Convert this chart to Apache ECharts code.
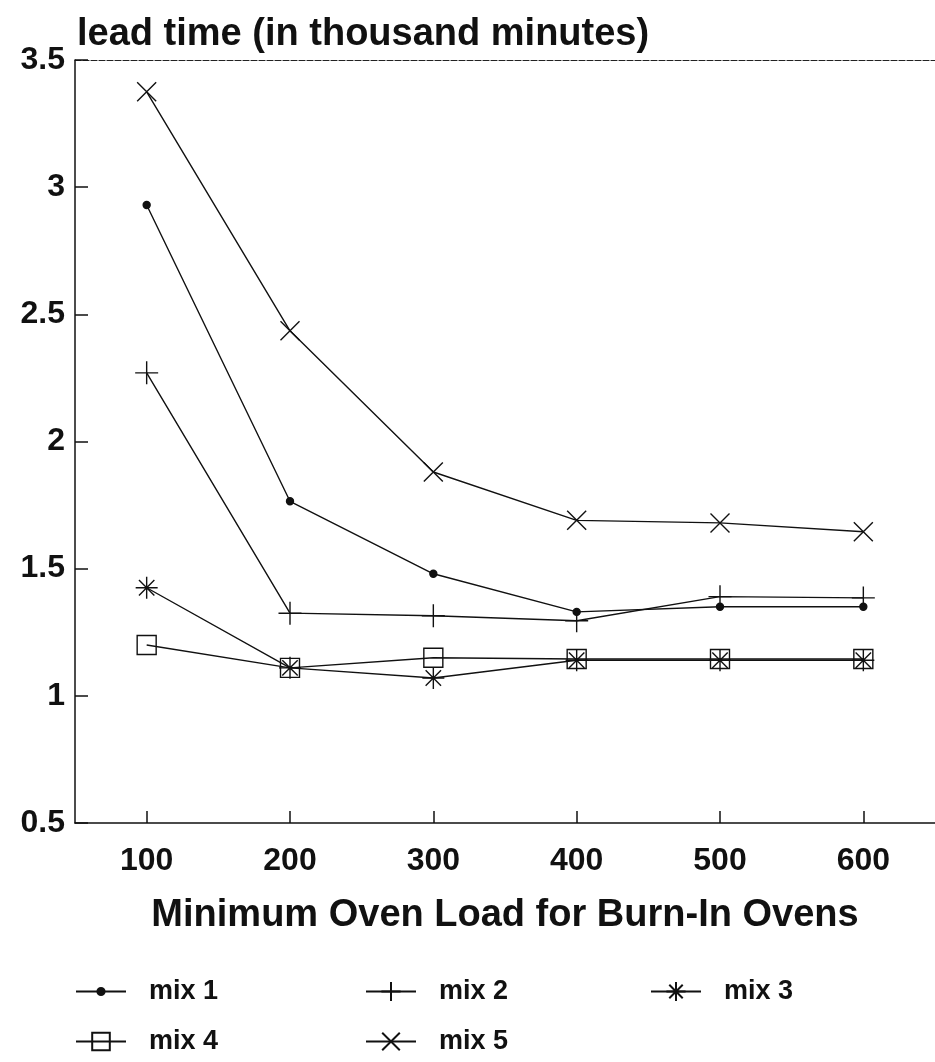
<!DOCTYPE html>
<html>
<head>
<meta charset="utf-8">
<script src="https://cdn.jsdelivr.net/npm/echarts@6/dist/echarts.min.js"></script>
<style>
  html, body { margin: 0; padding: 0; background: #fff; }
  #leadChart { width: 935px; height: 1062px; }
</style>
</head>
<body>
<div id="leadChart"></div>
<script>
// oven loads on the x axis
var loads = [100, 200, 300, 400, 500, 600];
// lead time, thousand minutes
var mix1 = [2.93, 1.765, 1.48, 1.33, 1.35, 1.35];
var mix2 = [2.27, 1.325, 1.315, 1.295, 1.39, 1.385];
var mix3 = [1.425, 1.11, 1.07, 1.14, 1.14, 1.14];
var mix4 = [1.20, 1.11, 1.15, 1.145, 1.145, 1.145];
var mix5 = [3.375, 2.435, 1.88, 1.69, 1.68, 1.645];
var yTicks = [0.5, 1, 1.5, 2, 2.5, 3, 3.5];

var FONT = '"Liberation Sans", Arial, sans-serif';

function pairs(vals) {
    return loads.map((x, i) => [x, vals[i]]);
}

// marker shapes, drawn as strokes
var PLUS = 'path://M0,5L10,5M5,0L5,10';
var CROSS = 'path://M0,0L10,10M10,0L0,10';
var STAR = 'path://M5,0L5,10M0,5L10,5M1.5,1.5L8.5,8.5M8.5,1.5L1.5,8.5';
var BOX = 'path://M0,0L10,0L10,10L0,10Z';

function mkSeries(name, vals, symbol, size, fill) {
    return {
        name: name,
        type: 'line',
        data: pairs(vals),
        symbol: symbol,
        symbolSize: size,
        showAllSymbol: true,
        lineStyle: { color: '#111', width: 1.4 },
        itemStyle: { color: fill, borderColor: '#111', borderWidth: 1.4 },
        emphasis: { disabled: true }
    };
}

var myChart = echarts.init(document.getElementById('leadChart'));

// one small legend per entry so they sit on the same grid as the scan
function leg(name, left, top, h) {
    return {
        data: [name],
        left: left,
        top: top,
        padding: 0,
        itemWidth: 50,
        itemHeight: h,
        textStyle: { fontFamily: FONT, fontSize: 27, fontWeight: 'bold', color: '#111', padding: [0, 0, 0, 18] }
    };
}

var option = {
    animation: false,
    backgroundColor: '#fff',
    title: {
        text: 'lead time (in thousand minutes)',
        left: 72,
        top: 11,
        textStyle: { fontFamily: FONT, fontSize: 38, fontWeight: 'bold', color: '#111' }
    },
    legend: [
        leg('mix 1', 75, 978, 9),
        leg('mix 2', 365, 978, 24),
        leg('mix 3', 650, 978, 24),
        leg('mix 4', 75, 1028, 22),
        leg('mix 5', 365, 1028, 22)
    ],
    grid: { left: 75, top: 60, right: -13, bottom: 239 },
    xAxis: [{
        type: 'value',
        min: 50,
        max: 650,
        name: 'Minimum Oven Load for Burn-In Ovens',
        nameLocation: 'middle',
        nameGap: 74,
        nameTextStyle: { fontFamily: FONT, fontSize: 38, fontWeight: 'bold', color: '#111' },
        axisLine: { lineStyle: { color: '#111', width: 1.5 } },
        axisTick: { inside: true, length: 12, customValues: loads, lineStyle: { color: '#111', width: 1.5 } },
        axisLabel: { customValues: loads, margin: 22, fontFamily: FONT, fontSize: 32, fontWeight: 'bold', color: '#111' },
        splitLine: { show: false }
    }, {
        type: 'value',
        position: 'top',
        min: 50,
        max: 650,
        axisLine: { show: true, lineStyle: { color: '#222', width: 1.2, type: [6, 2] } },
        axisTick: { show: false },
        axisLabel: { show: false },
        splitLine: { show: false }
    }],
    yAxis: {
        type: 'value',
        min: 0.5,
        max: 3.5,
        interval: 0.5,
        axisLine: { show: true, lineStyle: { color: '#111', width: 1.5 } },
        axisTick: { inside: true, length: 13, lineStyle: { color: '#111', width: 1.5 } },
        axisLabel: { margin: 10, fontFamily: FONT, fontSize: 32, fontWeight: 'bold', color: '#111' },
        splitLine: { show: false }
    },
    series: [
        mkSeries('mix 1', mix1, 'circle', 7, '#111'),
        mkSeries('mix 2', mix2, PLUS, 23, '#111'),
        mkSeries('mix 3', mix3, STAR, 22, '#111'),
        mkSeries('mix 4', mix4, BOX, 19, 'rgba(0,0,0,0)'),
        mkSeries('mix 5', mix5, CROSS, 19, '#111')
    ]
};

myChart.setOption(option);
</script>
</body>
</html>
